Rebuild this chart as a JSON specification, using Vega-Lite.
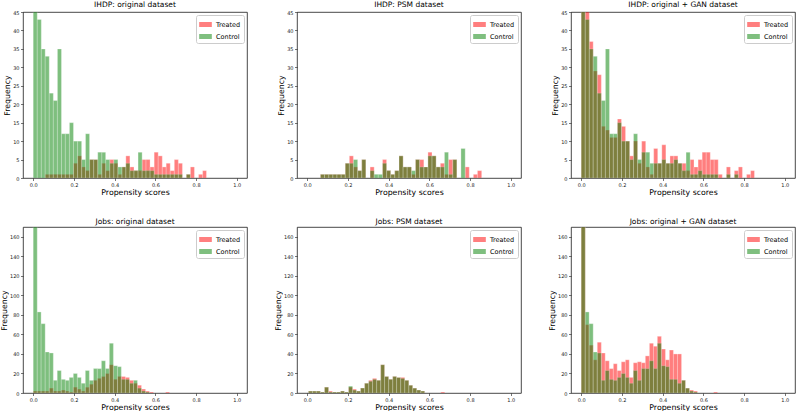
{
"$schema": "https://vega.github.io/schema/vega-lite/v6.json",
"padding": {"left": 0, "top": 0, "right": 0, "bottom": 0},
"config": {
 "font": "DejaVu Sans",
 "view": {"stroke": "#1a1a1a", "strokeWidth": 0.8},
 "axis": {"grid": false, "domain": false, "tickColor": "#1a1a1a", "tickSize": 2.5, "tickWidth": 0.6, "labelFontSize": 5, "labelColor": "#1a1a1a", "labelPadding": 1.5, "titleFontSize": 7.8, "titleFontWeight": "normal", "titleColor": "#000", "titlePadding": 1},
 "title": {"fontSize": 7.5, "fontWeight": "normal", "offset": 2, "anchor": "middle", "color": "#000"},
 "legend": {"orient": "top-right", "offset": 3, "padding": 3, "rowPadding": 2, "strokeColor": "#cccccc", "fillColor": "white", "cornerRadius": 2, "labelFontSize": 6.5, "labelColor": "#000", "labelOffset": 4, "symbolType": "M-1,-0.4L1,-0.4L1,0.4L-1,0.4Z", "symbolSize": 160, "symbolStrokeWidth": 0, "symbolOpacity": 0.5}
},
"data": {"values": [
{"p":"a","g":"Treated","lo":0.059,"hi":0.079,"n":1},
{"p":"a","g":"Treated","lo":0.079,"hi":0.099,"n":1},
{"p":"a","g":"Treated","lo":0.099,"hi":0.119,"n":1},
{"p":"a","g":"Treated","lo":0.119,"hi":0.139,"n":1},
{"p":"a","g":"Treated","lo":0.139,"hi":0.158,"n":1},
{"p":"a","g":"Treated","lo":0.158,"hi":0.178,"n":1},
{"p":"a","g":"Treated","lo":0.178,"hi":0.198,"n":1},
{"p":"a","g":"Treated","lo":0.198,"hi":0.218,"n":4},
{"p":"a","g":"Treated","lo":0.218,"hi":0.238,"n":6},
{"p":"a","g":"Treated","lo":0.238,"hi":0.257,"n":3},
{"p":"a","g":"Treated","lo":0.257,"hi":0.277,"n":2},
{"p":"a","g":"Treated","lo":0.277,"hi":0.297,"n":5},
{"p":"a","g":"Treated","lo":0.297,"hi":0.317,"n":5},
{"p":"a","g":"Treated","lo":0.317,"hi":0.337,"n":1},
{"p":"a","g":"Treated","lo":0.337,"hi":0.356,"n":4},
{"p":"a","g":"Treated","lo":0.356,"hi":0.376,"n":2},
{"p":"a","g":"Treated","lo":0.376,"hi":0.396,"n":5},
{"p":"a","g":"Treated","lo":0.396,"hi":0.416,"n":4},
{"p":"a","g":"Treated","lo":0.416,"hi":0.436,"n":1},
{"p":"a","g":"Treated","lo":0.436,"hi":0.455,"n":3},
{"p":"a","g":"Treated","lo":0.455,"hi":0.475,"n":6},
{"p":"a","g":"Treated","lo":0.475,"hi":0.495,"n":3},
{"p":"a","g":"Treated","lo":0.495,"hi":0.515,"n":2},
{"p":"a","g":"Treated","lo":0.515,"hi":0.535,"n":2},
{"p":"a","g":"Treated","lo":0.535,"hi":0.554,"n":5},
{"p":"a","g":"Treated","lo":0.554,"hi":0.574,"n":5},
{"p":"a","g":"Treated","lo":0.574,"hi":0.594,"n":3},
{"p":"a","g":"Treated","lo":0.594,"hi":0.614,"n":7},
{"p":"a","g":"Treated","lo":0.614,"hi":0.634,"n":6},
{"p":"a","g":"Treated","lo":0.634,"hi":0.653,"n":3},
{"p":"a","g":"Treated","lo":0.653,"hi":0.673,"n":4},
{"p":"a","g":"Treated","lo":0.673,"hi":0.693,"n":2},
{"p":"a","g":"Treated","lo":0.693,"hi":0.713,"n":5},
{"p":"a","g":"Treated","lo":0.713,"hi":0.733,"n":4},
{"p":"a","g":"Treated","lo":0.752,"hi":0.772,"n":1},
{"p":"a","g":"Treated","lo":0.772,"hi":0.792,"n":3},
{"p":"a","g":"Treated","lo":0.812,"hi":0.832,"n":1},
{"p":"a","g":"Treated","lo":0.832,"hi":0.851,"n":2},
{"p":"b","g":"Treated","lo":0.065,"hi":0.085,"n":1},
{"p":"b","g":"Treated","lo":0.085,"hi":0.106,"n":1},
{"p":"b","g":"Treated","lo":0.106,"hi":0.126,"n":1},
{"p":"b","g":"Treated","lo":0.126,"hi":0.146,"n":1},
{"p":"b","g":"Treated","lo":0.146,"hi":0.167,"n":1},
{"p":"b","g":"Treated","lo":0.167,"hi":0.187,"n":1},
{"p":"b","g":"Treated","lo":0.187,"hi":0.207,"n":4},
{"p":"b","g":"Treated","lo":0.207,"hi":0.227,"n":6},
{"p":"b","g":"Treated","lo":0.227,"hi":0.248,"n":3},
{"p":"b","g":"Treated","lo":0.248,"hi":0.268,"n":2},
{"p":"b","g":"Treated","lo":0.268,"hi":0.288,"n":5},
{"p":"b","g":"Treated","lo":0.309,"hi":0.329,"n":3},
{"p":"b","g":"Treated","lo":0.370,"hi":0.390,"n":5},
{"p":"b","g":"Treated","lo":0.390,"hi":0.410,"n":2},
{"p":"b","g":"Treated","lo":0.410,"hi":0.430,"n":1},
{"p":"b","g":"Treated","lo":0.430,"hi":0.451,"n":2},
{"p":"b","g":"Treated","lo":0.451,"hi":0.471,"n":6},
{"p":"b","g":"Treated","lo":0.471,"hi":0.491,"n":3},
{"p":"b","g":"Treated","lo":0.491,"hi":0.512,"n":3},
{"p":"b","g":"Treated","lo":0.512,"hi":0.532,"n":1},
{"p":"b","g":"Treated","lo":0.532,"hi":0.552,"n":5},
{"p":"b","g":"Treated","lo":0.552,"hi":0.573,"n":5},
{"p":"b","g":"Treated","lo":0.573,"hi":0.593,"n":3},
{"p":"b","g":"Treated","lo":0.593,"hi":0.613,"n":7},
{"p":"b","g":"Treated","lo":0.613,"hi":0.633,"n":6},
{"p":"b","g":"Treated","lo":0.633,"hi":0.654,"n":3},
{"p":"b","g":"Treated","lo":0.654,"hi":0.674,"n":4},
{"p":"b","g":"Treated","lo":0.674,"hi":0.694,"n":1},
{"p":"b","g":"Treated","lo":0.694,"hi":0.715,"n":5},
{"p":"b","g":"Treated","lo":0.715,"hi":0.735,"n":5},
{"p":"b","g":"Treated","lo":0.776,"hi":0.796,"n":3},
{"p":"b","g":"Treated","lo":0.816,"hi":0.836,"n":1},
{"p":"b","g":"Treated","lo":0.836,"hi":0.857,"n":2},
{"p":"c","g":"Treated","lo":0.0,"hi":0.020,"n":45},
{"p":"c","g":"Treated","lo":0.020,"hi":0.040,"n":45},
{"p":"c","g":"Treated","lo":0.040,"hi":0.059,"n":37},
{"p":"c","g":"Treated","lo":0.059,"hi":0.079,"n":29},
{"p":"c","g":"Treated","lo":0.079,"hi":0.099,"n":28},
{"p":"c","g":"Treated","lo":0.099,"hi":0.119,"n":14},
{"p":"c","g":"Treated","lo":0.119,"hi":0.139,"n":13},
{"p":"c","g":"Treated","lo":0.139,"hi":0.158,"n":11},
{"p":"c","g":"Treated","lo":0.158,"hi":0.178,"n":11},
{"p":"c","g":"Treated","lo":0.178,"hi":0.198,"n":16},
{"p":"c","g":"Treated","lo":0.198,"hi":0.218,"n":14},
{"p":"c","g":"Treated","lo":0.218,"hi":0.238,"n":10},
{"p":"c","g":"Treated","lo":0.238,"hi":0.257,"n":6},
{"p":"c","g":"Treated","lo":0.257,"hi":0.277,"n":10},
{"p":"c","g":"Treated","lo":0.277,"hi":0.297,"n":4},
{"p":"c","g":"Treated","lo":0.297,"hi":0.317,"n":10},
{"p":"c","g":"Treated","lo":0.317,"hi":0.337,"n":3},
{"p":"c","g":"Treated","lo":0.337,"hi":0.356,"n":1},
{"p":"c","g":"Treated","lo":0.356,"hi":0.376,"n":8},
{"p":"c","g":"Treated","lo":0.376,"hi":0.396,"n":4},
{"p":"c","g":"Treated","lo":0.396,"hi":0.416,"n":9},
{"p":"c","g":"Treated","lo":0.416,"hi":0.436,"n":4},
{"p":"c","g":"Treated","lo":0.436,"hi":0.455,"n":6},
{"p":"c","g":"Treated","lo":0.455,"hi":0.475,"n":6},
{"p":"c","g":"Treated","lo":0.475,"hi":0.495,"n":4},
{"p":"c","g":"Treated","lo":0.495,"hi":0.515,"n":4},
{"p":"c","g":"Treated","lo":0.515,"hi":0.535,"n":2},
{"p":"c","g":"Treated","lo":0.535,"hi":0.554,"n":5},
{"p":"c","g":"Treated","lo":0.554,"hi":0.574,"n":3},
{"p":"c","g":"Treated","lo":0.574,"hi":0.594,"n":5},
{"p":"c","g":"Treated","lo":0.594,"hi":0.614,"n":7},
{"p":"c","g":"Treated","lo":0.614,"hi":0.634,"n":7},
{"p":"c","g":"Treated","lo":0.634,"hi":0.653,"n":5},
{"p":"c","g":"Treated","lo":0.653,"hi":0.673,"n":5},
{"p":"c","g":"Treated","lo":0.673,"hi":0.693,"n":1},
{"p":"c","g":"Treated","lo":0.713,"hi":0.733,"n":3},
{"p":"c","g":"Treated","lo":0.752,"hi":0.772,"n":2},
{"p":"c","g":"Treated","lo":0.772,"hi":0.792,"n":3},
{"p":"c","g":"Treated","lo":0.812,"hi":0.832,"n":1},
{"p":"c","g":"Treated","lo":0.832,"hi":0.851,"n":2},
{"p":"d","g":"Treated","lo":0.0,"hi":0.020,"n":2},
{"p":"d","g":"Treated","lo":0.020,"hi":0.039,"n":2},
{"p":"d","g":"Treated","lo":0.039,"hi":0.059,"n":2},
{"p":"d","g":"Treated","lo":0.059,"hi":0.079,"n":2},
{"p":"d","g":"Treated","lo":0.079,"hi":0.099,"n":5},
{"p":"d","g":"Treated","lo":0.099,"hi":0.118,"n":2},
{"p":"d","g":"Treated","lo":0.118,"hi":0.138,"n":2},
{"p":"d","g":"Treated","lo":0.138,"hi":0.158,"n":3},
{"p":"d","g":"Treated","lo":0.158,"hi":0.177,"n":2},
{"p":"d","g":"Treated","lo":0.177,"hi":0.197,"n":1},
{"p":"d","g":"Treated","lo":0.197,"hi":0.217,"n":6},
{"p":"d","g":"Treated","lo":0.217,"hi":0.236,"n":4},
{"p":"d","g":"Treated","lo":0.236,"hi":0.256,"n":2},
{"p":"d","g":"Treated","lo":0.256,"hi":0.276,"n":6},
{"p":"d","g":"Treated","lo":0.276,"hi":0.296,"n":9},
{"p":"d","g":"Treated","lo":0.296,"hi":0.315,"n":13},
{"p":"d","g":"Treated","lo":0.315,"hi":0.335,"n":15},
{"p":"d","g":"Treated","lo":0.335,"hi":0.355,"n":17},
{"p":"d","g":"Treated","lo":0.355,"hi":0.374,"n":20},
{"p":"d","g":"Treated","lo":0.374,"hi":0.394,"n":29},
{"p":"d","g":"Treated","lo":0.394,"hi":0.414,"n":14},
{"p":"d","g":"Treated","lo":0.414,"hi":0.433,"n":17},
{"p":"d","g":"Treated","lo":0.433,"hi":0.453,"n":17},
{"p":"d","g":"Treated","lo":0.453,"hi":0.473,"n":16},
{"p":"d","g":"Treated","lo":0.473,"hi":0.493,"n":13},
{"p":"d","g":"Treated","lo":0.493,"hi":0.512,"n":10},
{"p":"d","g":"Treated","lo":0.512,"hi":0.532,"n":8},
{"p":"d","g":"Treated","lo":0.532,"hi":0.552,"n":4},
{"p":"d","g":"Treated","lo":0.552,"hi":0.571,"n":2},
{"p":"d","g":"Treated","lo":0.571,"hi":0.591,"n":1},
{"p":"d","g":"Treated","lo":0.650,"hi":0.670,"n":1},
{"p":"e","g":"Treated","lo":0.006,"hi":0.026,"n":2},
{"p":"e","g":"Treated","lo":0.026,"hi":0.045,"n":2},
{"p":"e","g":"Treated","lo":0.045,"hi":0.065,"n":2},
{"p":"e","g":"Treated","lo":0.065,"hi":0.085,"n":1},
{"p":"e","g":"Treated","lo":0.085,"hi":0.105,"n":6},
{"p":"e","g":"Treated","lo":0.105,"hi":0.124,"n":2},
{"p":"e","g":"Treated","lo":0.124,"hi":0.144,"n":1},
{"p":"e","g":"Treated","lo":0.144,"hi":0.164,"n":1},
{"p":"e","g":"Treated","lo":0.164,"hi":0.183,"n":2},
{"p":"e","g":"Treated","lo":0.183,"hi":0.203,"n":1},
{"p":"e","g":"Treated","lo":0.203,"hi":0.223,"n":6},
{"p":"e","g":"Treated","lo":0.223,"hi":0.242,"n":4},
{"p":"e","g":"Treated","lo":0.242,"hi":0.262,"n":2},
{"p":"e","g":"Treated","lo":0.262,"hi":0.282,"n":5},
{"p":"e","g":"Treated","lo":0.282,"hi":0.302,"n":10},
{"p":"e","g":"Treated","lo":0.302,"hi":0.321,"n":13},
{"p":"e","g":"Treated","lo":0.321,"hi":0.341,"n":15},
{"p":"e","g":"Treated","lo":0.341,"hi":0.361,"n":13},
{"p":"e","g":"Treated","lo":0.361,"hi":0.380,"n":29},
{"p":"e","g":"Treated","lo":0.380,"hi":0.400,"n":17},
{"p":"e","g":"Treated","lo":0.400,"hi":0.420,"n":14},
{"p":"e","g":"Treated","lo":0.420,"hi":0.439,"n":17},
{"p":"e","g":"Treated","lo":0.439,"hi":0.459,"n":16},
{"p":"e","g":"Treated","lo":0.459,"hi":0.479,"n":16},
{"p":"e","g":"Treated","lo":0.479,"hi":0.499,"n":13},
{"p":"e","g":"Treated","lo":0.499,"hi":0.518,"n":8},
{"p":"e","g":"Treated","lo":0.518,"hi":0.538,"n":5},
{"p":"e","g":"Treated","lo":0.538,"hi":0.558,"n":3},
{"p":"e","g":"Treated","lo":0.558,"hi":0.577,"n":2},
{"p":"e","g":"Treated","lo":0.656,"hi":0.676,"n":1},
{"p":"f","g":"Treated","lo":0.0,"hi":0.020,"n":170},
{"p":"f","g":"Treated","lo":0.020,"hi":0.039,"n":70},
{"p":"f","g":"Treated","lo":0.039,"hi":0.059,"n":49},
{"p":"f","g":"Treated","lo":0.059,"hi":0.079,"n":34},
{"p":"f","g":"Treated","lo":0.079,"hi":0.099,"n":52},
{"p":"f","g":"Treated","lo":0.099,"hi":0.118,"n":41},
{"p":"f","g":"Treated","lo":0.118,"hi":0.138,"n":33},
{"p":"f","g":"Treated","lo":0.138,"hi":0.158,"n":25},
{"p":"f","g":"Treated","lo":0.158,"hi":0.177,"n":30},
{"p":"f","g":"Treated","lo":0.177,"hi":0.197,"n":23},
{"p":"f","g":"Treated","lo":0.197,"hi":0.217,"n":32},
{"p":"f","g":"Treated","lo":0.217,"hi":0.236,"n":34},
{"p":"f","g":"Treated","lo":0.236,"hi":0.256,"n":16},
{"p":"f","g":"Treated","lo":0.256,"hi":0.276,"n":31},
{"p":"f","g":"Treated","lo":0.276,"hi":0.296,"n":32},
{"p":"f","g":"Treated","lo":0.296,"hi":0.315,"n":31},
{"p":"f","g":"Treated","lo":0.315,"hi":0.335,"n":38},
{"p":"f","g":"Treated","lo":0.335,"hi":0.355,"n":51},
{"p":"f","g":"Treated","lo":0.355,"hi":0.374,"n":48},
{"p":"f","g":"Treated","lo":0.374,"hi":0.394,"n":58},
{"p":"f","g":"Treated","lo":0.394,"hi":0.414,"n":45},
{"p":"f","g":"Treated","lo":0.414,"hi":0.433,"n":34},
{"p":"f","g":"Treated","lo":0.433,"hi":0.453,"n":44},
{"p":"f","g":"Treated","lo":0.453,"hi":0.473,"n":40},
{"p":"f","g":"Treated","lo":0.473,"hi":0.493,"n":40},
{"p":"f","g":"Treated","lo":0.493,"hi":0.512,"n":13},
{"p":"f","g":"Treated","lo":0.512,"hi":0.532,"n":5},
{"p":"f","g":"Treated","lo":0.532,"hi":0.552,"n":3},
{"p":"f","g":"Treated","lo":0.552,"hi":0.571,"n":2},
{"p":"f","g":"Treated","lo":0.650,"hi":0.670,"n":1},
{"p":"a","g":"Control","lo":0.0,"hi":0.020,"n":45},
{"p":"a","g":"Control","lo":0.020,"hi":0.040,"n":43},
{"p":"a","g":"Control","lo":0.040,"hi":0.059,"n":35},
{"p":"a","g":"Control","lo":0.059,"hi":0.079,"n":33},
{"p":"a","g":"Control","lo":0.079,"hi":0.099,"n":23},
{"p":"a","g":"Control","lo":0.099,"hi":0.119,"n":21},
{"p":"a","g":"Control","lo":0.119,"hi":0.139,"n":35},
{"p":"a","g":"Control","lo":0.139,"hi":0.158,"n":12},
{"p":"a","g":"Control","lo":0.158,"hi":0.178,"n":12},
{"p":"a","g":"Control","lo":0.178,"hi":0.198,"n":15},
{"p":"a","g":"Control","lo":0.198,"hi":0.218,"n":10},
{"p":"a","g":"Control","lo":0.218,"hi":0.238,"n":10},
{"p":"a","g":"Control","lo":0.238,"hi":0.257,"n":5},
{"p":"a","g":"Control","lo":0.257,"hi":0.277,"n":12},
{"p":"a","g":"Control","lo":0.277,"hi":0.297,"n":5},
{"p":"a","g":"Control","lo":0.297,"hi":0.317,"n":5},
{"p":"a","g":"Control","lo":0.317,"hi":0.337,"n":7},
{"p":"a","g":"Control","lo":0.337,"hi":0.356,"n":7},
{"p":"a","g":"Control","lo":0.356,"hi":0.376,"n":5},
{"p":"a","g":"Control","lo":0.376,"hi":0.396,"n":4},
{"p":"a","g":"Control","lo":0.396,"hi":0.416,"n":5},
{"p":"a","g":"Control","lo":0.416,"hi":0.436,"n":3},
{"p":"a","g":"Control","lo":0.436,"hi":0.455,"n":3},
{"p":"a","g":"Control","lo":0.455,"hi":0.475,"n":4},
{"p":"a","g":"Control","lo":0.475,"hi":0.495,"n":2},
{"p":"a","g":"Control","lo":0.495,"hi":0.515,"n":2},
{"p":"a","g":"Control","lo":0.515,"hi":0.535,"n":7},
{"p":"a","g":"Control","lo":0.535,"hi":0.554,"n":2},
{"p":"a","g":"Control","lo":0.554,"hi":0.574,"n":2},
{"p":"a","g":"Control","lo":0.574,"hi":0.594,"n":2},
{"p":"a","g":"Control","lo":0.594,"hi":0.614,"n":1},
{"p":"a","g":"Control","lo":0.614,"hi":0.634,"n":1},
{"p":"a","g":"Control","lo":0.634,"hi":0.653,"n":1},
{"p":"a","g":"Control","lo":0.653,"hi":0.673,"n":1},
{"p":"a","g":"Control","lo":0.673,"hi":0.693,"n":1},
{"p":"a","g":"Control","lo":0.693,"hi":0.713,"n":1},
{"p":"a","g":"Control","lo":0.713,"hi":0.733,"n":1},
{"p":"a","g":"Control","lo":0.752,"hi":0.772,"n":1},
{"p":"b","g":"Control","lo":0.065,"hi":0.085,"n":1},
{"p":"b","g":"Control","lo":0.085,"hi":0.106,"n":1},
{"p":"b","g":"Control","lo":0.106,"hi":0.126,"n":1},
{"p":"b","g":"Control","lo":0.126,"hi":0.146,"n":1},
{"p":"b","g":"Control","lo":0.146,"hi":0.167,"n":1},
{"p":"b","g":"Control","lo":0.167,"hi":0.187,"n":1},
{"p":"b","g":"Control","lo":0.187,"hi":0.207,"n":4},
{"p":"b","g":"Control","lo":0.207,"hi":0.227,"n":4},
{"p":"b","g":"Control","lo":0.227,"hi":0.248,"n":5},
{"p":"b","g":"Control","lo":0.248,"hi":0.268,"n":2},
{"p":"b","g":"Control","lo":0.268,"hi":0.288,"n":5},
{"p":"b","g":"Control","lo":0.309,"hi":0.329,"n":2},
{"p":"b","g":"Control","lo":0.329,"hi":0.349,"n":1},
{"p":"b","g":"Control","lo":0.349,"hi":0.370,"n":1},
{"p":"b","g":"Control","lo":0.370,"hi":0.390,"n":4},
{"p":"b","g":"Control","lo":0.390,"hi":0.410,"n":2},
{"p":"b","g":"Control","lo":0.410,"hi":0.430,"n":1},
{"p":"b","g":"Control","lo":0.430,"hi":0.451,"n":2},
{"p":"b","g":"Control","lo":0.451,"hi":0.471,"n":6},
{"p":"b","g":"Control","lo":0.471,"hi":0.491,"n":3},
{"p":"b","g":"Control","lo":0.491,"hi":0.512,"n":3},
{"p":"b","g":"Control","lo":0.512,"hi":0.532,"n":2},
{"p":"b","g":"Control","lo":0.532,"hi":0.552,"n":5},
{"p":"b","g":"Control","lo":0.552,"hi":0.573,"n":3},
{"p":"b","g":"Control","lo":0.573,"hi":0.593,"n":3},
{"p":"b","g":"Control","lo":0.593,"hi":0.613,"n":6},
{"p":"b","g":"Control","lo":0.613,"hi":0.633,"n":6},
{"p":"b","g":"Control","lo":0.633,"hi":0.654,"n":3},
{"p":"b","g":"Control","lo":0.654,"hi":0.674,"n":3},
{"p":"b","g":"Control","lo":0.674,"hi":0.694,"n":7},
{"p":"b","g":"Control","lo":0.694,"hi":0.715,"n":1},
{"p":"b","g":"Control","lo":0.715,"hi":0.735,"n":5},
{"p":"b","g":"Control","lo":0.755,"hi":0.776,"n":8},
{"p":"c","g":"Control","lo":0.0,"hi":0.020,"n":45},
{"p":"c","g":"Control","lo":0.020,"hi":0.040,"n":43},
{"p":"c","g":"Control","lo":0.040,"hi":0.059,"n":35},
{"p":"c","g":"Control","lo":0.059,"hi":0.079,"n":33},
{"p":"c","g":"Control","lo":0.079,"hi":0.099,"n":23},
{"p":"c","g":"Control","lo":0.099,"hi":0.119,"n":21},
{"p":"c","g":"Control","lo":0.119,"hi":0.139,"n":35},
{"p":"c","g":"Control","lo":0.139,"hi":0.158,"n":12},
{"p":"c","g":"Control","lo":0.158,"hi":0.178,"n":12},
{"p":"c","g":"Control","lo":0.178,"hi":0.198,"n":15},
{"p":"c","g":"Control","lo":0.198,"hi":0.218,"n":10},
{"p":"c","g":"Control","lo":0.218,"hi":0.238,"n":10},
{"p":"c","g":"Control","lo":0.238,"hi":0.257,"n":5},
{"p":"c","g":"Control","lo":0.257,"hi":0.277,"n":12},
{"p":"c","g":"Control","lo":0.277,"hi":0.297,"n":5},
{"p":"c","g":"Control","lo":0.297,"hi":0.317,"n":7},
{"p":"c","g":"Control","lo":0.317,"hi":0.337,"n":7},
{"p":"c","g":"Control","lo":0.337,"hi":0.356,"n":4},
{"p":"c","g":"Control","lo":0.356,"hi":0.376,"n":4},
{"p":"c","g":"Control","lo":0.376,"hi":0.396,"n":4},
{"p":"c","g":"Control","lo":0.396,"hi":0.416,"n":5},
{"p":"c","g":"Control","lo":0.416,"hi":0.436,"n":4},
{"p":"c","g":"Control","lo":0.436,"hi":0.455,"n":4},
{"p":"c","g":"Control","lo":0.455,"hi":0.475,"n":5},
{"p":"c","g":"Control","lo":0.475,"hi":0.495,"n":4},
{"p":"c","g":"Control","lo":0.495,"hi":0.515,"n":2},
{"p":"c","g":"Control","lo":0.515,"hi":0.535,"n":7},
{"p":"c","g":"Control","lo":0.535,"hi":0.554,"n":1},
{"p":"c","g":"Control","lo":0.554,"hi":0.574,"n":1},
{"p":"c","g":"Control","lo":0.574,"hi":0.594,"n":2},
{"p":"c","g":"Control","lo":0.594,"hi":0.614,"n":1},
{"p":"c","g":"Control","lo":0.614,"hi":0.634,"n":1},
{"p":"c","g":"Control","lo":0.634,"hi":0.653,"n":1},
{"p":"c","g":"Control","lo":0.653,"hi":0.673,"n":1},
{"p":"c","g":"Control","lo":0.713,"hi":0.733,"n":1},
{"p":"c","g":"Control","lo":0.752,"hi":0.772,"n":1},
{"p":"d","g":"Control","lo":0.0,"hi":0.020,"n":170},
{"p":"d","g":"Control","lo":0.020,"hi":0.039,"n":83},
{"p":"d","g":"Control","lo":0.039,"hi":0.059,"n":71},
{"p":"d","g":"Control","lo":0.059,"hi":0.079,"n":42},
{"p":"d","g":"Control","lo":0.079,"hi":0.099,"n":41},
{"p":"d","g":"Control","lo":0.099,"hi":0.118,"n":13},
{"p":"d","g":"Control","lo":0.118,"hi":0.138,"n":23},
{"p":"d","g":"Control","lo":0.138,"hi":0.158,"n":14},
{"p":"d","g":"Control","lo":0.158,"hi":0.177,"n":13},
{"p":"d","g":"Control","lo":0.177,"hi":0.197,"n":16},
{"p":"d","g":"Control","lo":0.197,"hi":0.217,"n":20},
{"p":"d","g":"Control","lo":0.217,"hi":0.236,"n":16},
{"p":"d","g":"Control","lo":0.236,"hi":0.256,"n":10},
{"p":"d","g":"Control","lo":0.256,"hi":0.276,"n":23},
{"p":"d","g":"Control","lo":0.276,"hi":0.296,"n":13},
{"p":"d","g":"Control","lo":0.296,"hi":0.315,"n":25},
{"p":"d","g":"Control","lo":0.315,"hi":0.335,"n":25},
{"p":"d","g":"Control","lo":0.335,"hi":0.355,"n":33},
{"p":"d","g":"Control","lo":0.355,"hi":0.374,"n":25},
{"p":"d","g":"Control","lo":0.374,"hi":0.394,"n":51},
{"p":"d","g":"Control","lo":0.394,"hi":0.414,"n":28},
{"p":"d","g":"Control","lo":0.414,"hi":0.433,"n":27},
{"p":"d","g":"Control","lo":0.433,"hi":0.453,"n":14},
{"p":"d","g":"Control","lo":0.453,"hi":0.473,"n":14},
{"p":"d","g":"Control","lo":0.473,"hi":0.493,"n":10},
{"p":"d","g":"Control","lo":0.493,"hi":0.512,"n":13},
{"p":"d","g":"Control","lo":0.512,"hi":0.532,"n":5},
{"p":"d","g":"Control","lo":0.532,"hi":0.552,"n":2},
{"p":"d","g":"Control","lo":0.552,"hi":0.571,"n":1},
{"p":"e","g":"Control","lo":0.006,"hi":0.026,"n":2},
{"p":"e","g":"Control","lo":0.026,"hi":0.045,"n":2},
{"p":"e","g":"Control","lo":0.045,"hi":0.065,"n":2},
{"p":"e","g":"Control","lo":0.065,"hi":0.085,"n":1},
{"p":"e","g":"Control","lo":0.085,"hi":0.105,"n":6},
{"p":"e","g":"Control","lo":0.105,"hi":0.124,"n":1},
{"p":"e","g":"Control","lo":0.124,"hi":0.144,"n":1},
{"p":"e","g":"Control","lo":0.144,"hi":0.164,"n":1},
{"p":"e","g":"Control","lo":0.164,"hi":0.183,"n":2},
{"p":"e","g":"Control","lo":0.183,"hi":0.203,"n":1},
{"p":"e","g":"Control","lo":0.203,"hi":0.223,"n":7},
{"p":"e","g":"Control","lo":0.223,"hi":0.242,"n":3},
{"p":"e","g":"Control","lo":0.242,"hi":0.262,"n":2},
{"p":"e","g":"Control","lo":0.262,"hi":0.282,"n":5},
{"p":"e","g":"Control","lo":0.282,"hi":0.302,"n":10},
{"p":"e","g":"Control","lo":0.302,"hi":0.321,"n":12},
{"p":"e","g":"Control","lo":0.321,"hi":0.341,"n":14},
{"p":"e","g":"Control","lo":0.341,"hi":0.361,"n":13},
{"p":"e","g":"Control","lo":0.361,"hi":0.380,"n":29},
{"p":"e","g":"Control","lo":0.380,"hi":0.400,"n":17},
{"p":"e","g":"Control","lo":0.400,"hi":0.420,"n":14},
{"p":"e","g":"Control","lo":0.420,"hi":0.439,"n":17},
{"p":"e","g":"Control","lo":0.439,"hi":0.459,"n":16},
{"p":"e","g":"Control","lo":0.459,"hi":0.479,"n":15},
{"p":"e","g":"Control","lo":0.479,"hi":0.499,"n":13},
{"p":"e","g":"Control","lo":0.499,"hi":0.518,"n":8},
{"p":"e","g":"Control","lo":0.518,"hi":0.538,"n":5},
{"p":"e","g":"Control","lo":0.538,"hi":0.558,"n":3},
{"p":"e","g":"Control","lo":0.558,"hi":0.577,"n":2},
{"p":"f","g":"Control","lo":0.0,"hi":0.020,"n":170},
{"p":"f","g":"Control","lo":0.020,"hi":0.039,"n":83},
{"p":"f","g":"Control","lo":0.039,"hi":0.059,"n":71},
{"p":"f","g":"Control","lo":0.059,"hi":0.079,"n":42},
{"p":"f","g":"Control","lo":0.079,"hi":0.099,"n":41},
{"p":"f","g":"Control","lo":0.099,"hi":0.118,"n":13},
{"p":"f","g":"Control","lo":0.118,"hi":0.138,"n":23},
{"p":"f","g":"Control","lo":0.138,"hi":0.158,"n":14},
{"p":"f","g":"Control","lo":0.158,"hi":0.177,"n":13},
{"p":"f","g":"Control","lo":0.177,"hi":0.197,"n":16},
{"p":"f","g":"Control","lo":0.197,"hi":0.217,"n":20},
{"p":"f","g":"Control","lo":0.217,"hi":0.236,"n":16},
{"p":"f","g":"Control","lo":0.236,"hi":0.256,"n":10},
{"p":"f","g":"Control","lo":0.256,"hi":0.276,"n":23},
{"p":"f","g":"Control","lo":0.276,"hi":0.296,"n":13},
{"p":"f","g":"Control","lo":0.296,"hi":0.315,"n":25},
{"p":"f","g":"Control","lo":0.315,"hi":0.335,"n":25},
{"p":"f","g":"Control","lo":0.335,"hi":0.355,"n":33},
{"p":"f","g":"Control","lo":0.355,"hi":0.374,"n":25},
{"p":"f","g":"Control","lo":0.374,"hi":0.394,"n":51},
{"p":"f","g":"Control","lo":0.394,"hi":0.414,"n":28},
{"p":"f","g":"Control","lo":0.414,"hi":0.433,"n":27},
{"p":"f","g":"Control","lo":0.433,"hi":0.453,"n":14},
{"p":"f","g":"Control","lo":0.453,"hi":0.473,"n":14},
{"p":"f","g":"Control","lo":0.473,"hi":0.493,"n":10},
{"p":"f","g":"Control","lo":0.493,"hi":0.512,"n":13},
{"p":"f","g":"Control","lo":0.512,"hi":0.532,"n":5},
{"p":"f","g":"Control","lo":0.532,"hi":0.552,"n":2},
{"p":"f","g":"Control","lo":0.552,"hi":0.571,"n":1}
]},
"columns": 3,
"bounds": "flush",
"spacing": {"row": 49, "column": 50},
"resolve": {"scale": {"color": "independent"}, "legend": {"color": "independent"}},
"concat": [
 {"title": "IHDP: original dataset", "width": 224, "height": 166,
  "transform": [{"filter": "datum.p == 'a'"}],
  "mark": {"type": "bar", "opacity": 0.5, "clip": true, "stroke": "white", "strokeWidth": 0.3},
  "encoding": {
   "x": {"field": "lo", "type": "quantitative", "scale": {"domain": [-0.05, 1.05], "nice": false, "zero": false}, "axis": {"values": [0, 0.2, 0.4, 0.6, 0.8, 1.0], "format": ".1f", "title": "Propensity scores"}},
   "x2": {"field": "hi"},
   "y": {"field": "n", "type": "quantitative", "stack": null, "scale": {"domain": [0, 45], "nice": false}, "axis": {"values": [0, 5, 10, 15, 20, 25, 30, 35, 40, 45], "title": "Frequency"}},
   "y2": {"datum": 0},
   "color": {"field": "g", "type": "nominal", "scale": {"domain": ["Treated", "Control"], "range": ["#ff0000", "#008000"]}, "legend": {"title": null}},
   "order": {"field": "g", "sort": "descending"}
  }},
 {"title": "IHDP: PSM dataset", "width": 224, "height": 166,
  "transform": [{"filter": "datum.p == 'b'"}],
  "mark": {"type": "bar", "opacity": 0.5, "clip": true, "stroke": "white", "strokeWidth": 0.3},
  "encoding": {
   "x": {"field": "lo", "type": "quantitative", "scale": {"domain": [-0.05, 1.05], "nice": false, "zero": false}, "axis": {"values": [0, 0.2, 0.4, 0.6, 0.8, 1.0], "format": ".1f", "title": "Propensity scores"}},
   "x2": {"field": "hi"},
   "y": {"field": "n", "type": "quantitative", "stack": null, "scale": {"domain": [0, 45], "nice": false}, "axis": {"values": [0, 5, 10, 15, 20, 25, 30, 35, 40, 45], "title": "Frequency"}},
   "y2": {"datum": 0},
   "color": {"field": "g", "type": "nominal", "scale": {"domain": ["Treated", "Control"], "range": ["#ff0000", "#008000"]}, "legend": {"title": null}},
   "order": {"field": "g", "sort": "descending"}
  }},
 {"title": "IHDP: original + GAN dataset", "width": 224, "height": 166,
  "transform": [{"filter": "datum.p == 'c'"}],
  "mark": {"type": "bar", "opacity": 0.5, "clip": true, "stroke": "white", "strokeWidth": 0.3},
  "encoding": {
   "x": {"field": "lo", "type": "quantitative", "scale": {"domain": [-0.05, 1.05], "nice": false, "zero": false}, "axis": {"values": [0, 0.2, 0.4, 0.6, 0.8, 1.0], "format": ".1f", "title": "Propensity scores"}},
   "x2": {"field": "hi"},
   "y": {"field": "n", "type": "quantitative", "stack": null, "scale": {"domain": [0, 45], "nice": false}, "axis": {"values": [0, 5, 10, 15, 20, 25, 30, 35, 40, 45], "title": "Frequency"}},
   "y2": {"datum": 0},
   "color": {"field": "g", "type": "nominal", "scale": {"domain": ["Treated", "Control"], "range": ["#ff0000", "#008000"]}, "legend": {"title": null}},
   "order": {"field": "g", "sort": "descending"}
  }},
 {"title": "Jobs: original dataset", "width": 224, "height": 166,
  "transform": [{"filter": "datum.p == 'd'"}],
  "mark": {"type": "bar", "opacity": 0.5, "clip": true, "stroke": "white", "strokeWidth": 0.3},
  "encoding": {
   "x": {"field": "lo", "type": "quantitative", "scale": {"domain": [-0.05, 1.05], "nice": false, "zero": false}, "axis": {"values": [0, 0.2, 0.4, 0.6, 0.8, 1.0], "format": ".1f", "title": "Propensity scores"}},
   "x2": {"field": "hi"},
   "y": {"field": "n", "type": "quantitative", "stack": null, "scale": {"domain": [0, 170], "nice": false}, "axis": {"values": [0, 20, 40, 60, 80, 100, 120, 140, 160], "title": "Frequency"}},
   "y2": {"datum": 0},
   "color": {"field": "g", "type": "nominal", "scale": {"domain": ["Treated", "Control"], "range": ["#ff0000", "#008000"]}, "legend": {"title": null}},
   "order": {"field": "g", "sort": "descending"}
  }},
 {"title": "Jobs: PSM dataset", "width": 224, "height": 166,
  "transform": [{"filter": "datum.p == 'e'"}],
  "mark": {"type": "bar", "opacity": 0.5, "clip": true, "stroke": "white", "strokeWidth": 0.3},
  "encoding": {
   "x": {"field": "lo", "type": "quantitative", "scale": {"domain": [-0.05, 1.05], "nice": false, "zero": false}, "axis": {"values": [0, 0.2, 0.4, 0.6, 0.8, 1.0], "format": ".1f", "title": "Propensity scores"}},
   "x2": {"field": "hi"},
   "y": {"field": "n", "type": "quantitative", "stack": null, "scale": {"domain": [0, 170], "nice": false}, "axis": {"values": [0, 20, 40, 60, 80, 100, 120, 140, 160], "title": "Frequency"}},
   "y2": {"datum": 0},
   "color": {"field": "g", "type": "nominal", "scale": {"domain": ["Treated", "Control"], "range": ["#ff0000", "#008000"]}, "legend": {"title": null}},
   "order": {"field": "g", "sort": "descending"}
  }},
 {"title": "Jobs: original + GAN dataset", "width": 224, "height": 166,
  "transform": [{"filter": "datum.p == 'f'"}],
  "mark": {"type": "bar", "opacity": 0.5, "clip": true, "stroke": "white", "strokeWidth": 0.3},
  "encoding": {
   "x": {"field": "lo", "type": "quantitative", "scale": {"domain": [-0.05, 1.05], "nice": false, "zero": false}, "axis": {"values": [0, 0.2, 0.4, 0.6, 0.8, 1.0], "format": ".1f", "title": "Propensity scores"}},
   "x2": {"field": "hi"},
   "y": {"field": "n", "type": "quantitative", "stack": null, "scale": {"domain": [0, 170], "nice": false}, "axis": {"values": [0, 20, 40, 60, 80, 100, 120, 140, 160], "title": "Frequency"}},
   "y2": {"datum": 0},
   "color": {"field": "g", "type": "nominal", "scale": {"domain": ["Treated", "Control"], "range": ["#ff0000", "#008000"]}, "legend": {"title": null}},
   "order": {"field": "g", "sort": "descending"}
  }}
]
}
